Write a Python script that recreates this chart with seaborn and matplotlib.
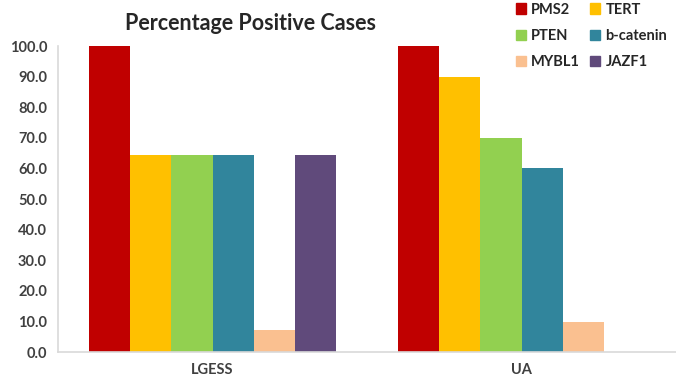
import pandas as pd
import matplotlib.pyplot as plt
import seaborn as sns
from matplotlib.patches import Patch

groups = ['LGESS', 'UA']
genes = ['PMS2', 'TERT', 'PTEN', 'b-catenin', 'MYBL1', 'JAZF1']
lgess = [100.0, 64.3, 64.3, 64.3, 7.1, 64.3]
ua = [100.0, 90.0, 70.0, 60.0, 10.0, 0.0]
colors = ['#C00000', '#FFC000', '#92D050', '#31859C', '#FAC090', '#604A7B']

rows = []
for g, vals in zip(groups, [lgess, ua]):
    for gene, v in zip(genes, vals):
        rows.append({'group': g, 'gene': gene, 'pct': v})
df = pd.DataFrame(rows)

sns.set_style('white')
plt.rcParams['font.family'] = ['Lato', 'DejaVu Sans']

fig = plt.figure(figsize=(6.76, 3.84), dpi=100)
ax = fig.add_axes([0.086, 0.083, 0.914, 0.797])

sns.barplot(data=df, x='group', y='pct', hue='gene', hue_order=genes,
            palette=colors, width=0.8, saturation=1, ax=ax, legend=False,
            linewidth=0)

ax.set_ylim(0, 100)
ax.set_xlim(-0.5, 1.5)
ax.set_yticks(range(0, 101, 10))
ax.set_yticklabels([f'{v:.1f}' for v in range(0, 101, 10)])
ax.set_xlabel('')
ax.set_ylabel('')
ax.tick_params(length=0, colors='#404040', labelsize=10.5)
for lab in ax.get_yticklabels() + ax.get_xticklabels():
    lab.set_fontweight('bold')
ax.tick_params(axis='y', pad=8)
ax.tick_params(axis='x', pad=8)

for s in ['top', 'right']:
    ax.spines[s].set_visible(False)
for s in ['left', 'bottom']:
    ax.spines[s].set_color('#D9D9D9')
    ax.spines[s].set_linewidth(1.2)

fig.text(0.37, 0.94, 'Percentage Positive Cases', ha='center', va='center',
         fontsize=15.5, fontweight='bold', color='#262626')

order = [0, 2, 4, 1, 3, 5]
handles = [Patch(color=colors[i], label=genes[i]) for i in order]
fig.legend(handles=handles, ncol=2, loc='upper left',
           bbox_to_anchor=(0.748, 1.02), frameon=False,
           prop={'weight': 'bold', 'size': 10.5}, labelcolor='#262626',
           handlelength=0.7, handleheight=0.7, handletextpad=0.35,
           columnspacing=0.7, labelspacing=0.85, borderaxespad=0.3)

fig.savefig('out.png', dpi=100)
